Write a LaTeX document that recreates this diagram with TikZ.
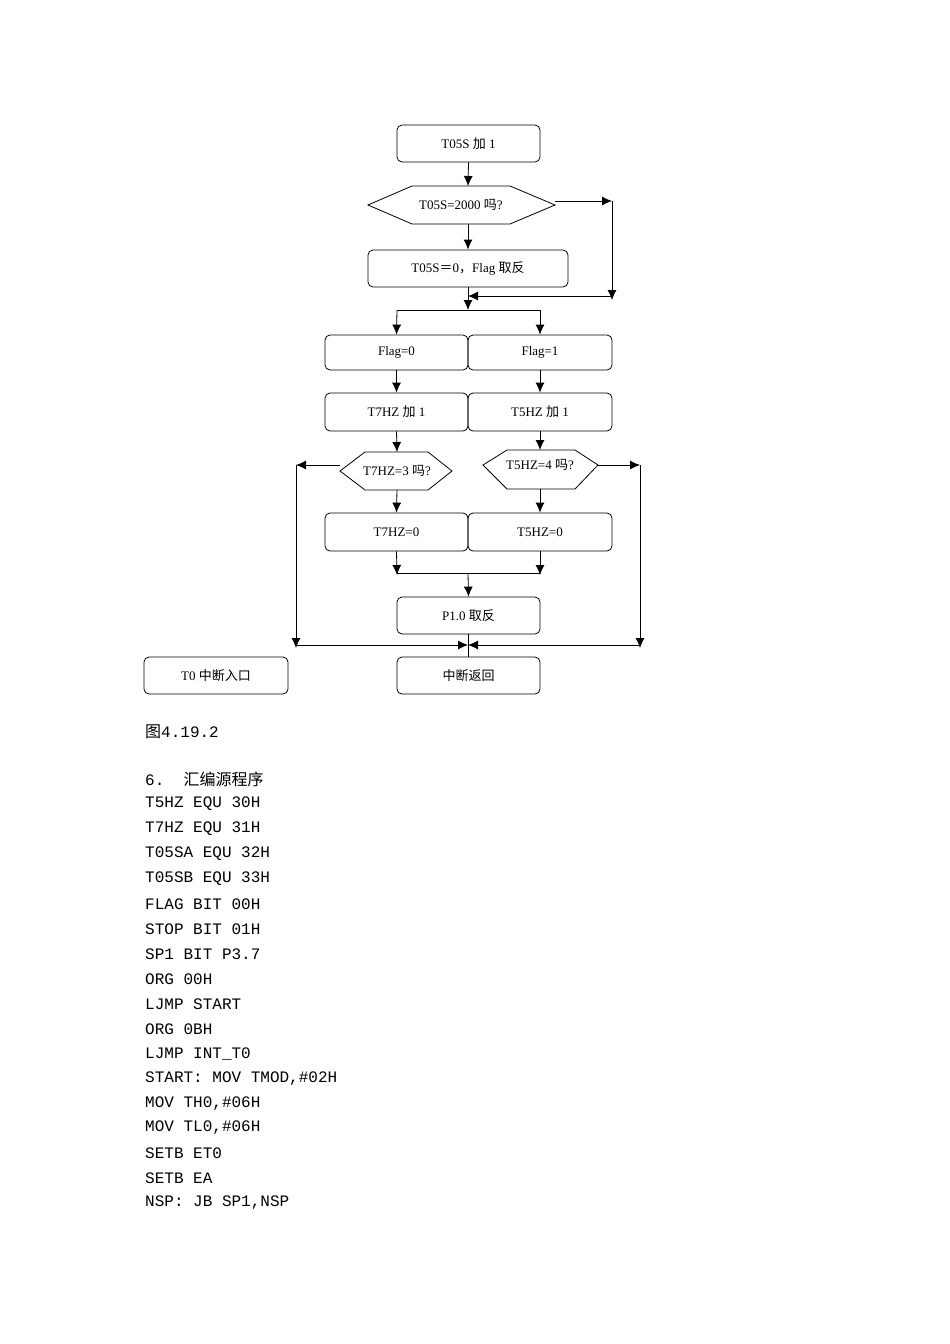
\documentclass[tikz,border=0pt]{standalone}
\usepackage{fontspec}
\setmainfont{Liberation Serif}
\newfontfamily\cjk{Noto Sans CJK SC}
\newfontfamily\mono{Liberation Mono}
\begin{document}
\begin{tikzpicture}[x=1pt,y=-1pt,
  box/.style={draw,rounded corners=5pt,line width=0.8pt,inner sep=0pt,font=\fontsize{13}{13}\selectfont},
  ar/.style={-{Latex[length=10pt,width=9pt]},line width=0.8pt},
  ln/.style={line width=0.8pt},
  code/.style={anchor=west,inner sep=0pt,font=\fontsize{16}{16}\mono}]
\usetikzlibrary{arrows.meta}
\useasboundingbox (0,0) rectangle (950,1344);
\def\bx#1#2#3#4#5#6{\node[box,minimum width=#4-#2,minimum height=#5-#3] (#1) at ({(#2+#4)/2},{(#3+#5)/2}) {#6};}
\bx{a}{397}{125}{540}{162}{T05S {\cjk 加} 1}
\bx{c}{368}{250}{568}{287}{T05S{\cjk ＝}0{\cjk ，}Flag {\cjk 取反}}
\bx{f0}{325}{335}{468}{370}{Flag=0}
\bx{f1}{468}{335}{612}{370}{Flag=1}
\bx{t7}{325}{393}{468}{431}{T7HZ {\cjk 加} 1}
\bx{t5}{468}{393}{612}{431}{T5HZ {\cjk 加} 1}
\bx{z7}{325}{513}{468}{551}{T7HZ=0}
\bx{z5}{468}{513}{612}{551}{T5HZ=0}
\bx{p}{397}{597}{540}{634}{P1.0 {\cjk 取反}}
\bx{r}{397}{657}{540}{694}{\cjk 中断返回}
\bx{e}{144}{657}{288}{694}{T0 {\cjk 中断入口}}
% hexagons
\draw[ln] (368,205)--(412,186)--(510,186)--(555,205)--(510,224)--(412,224)--cycle;
\node[font=\fontsize{13}{13}\selectfont] (b) at (461,205) {T05S=2000 {\cjk 吗}?};
\draw[ln] (340,471)--(365,452)--(428,452)--(452,471)--(428,490)--(365,490)--cycle;
\node[font=\fontsize{13}{13}\selectfont] (d7) at (397,471) {T7HZ=3 {\cjk 吗}?};
\draw[ln] (483,465)--(507,450)--(575,450)--(598,465)--(575,489)--(507,489)--cycle;
\node[font=\fontsize{13}{13}\selectfont] (d5) at (540,465) {T5HZ=4 {\cjk 吗}?};
\coordinate (m1) at (468,296); \coordinate (m2) at (468,310);
\coordinate (j) at (468,573); \coordinate (k) at (468,645);
% connectors
\draw[ar] (a.south) -- (468,186);
\draw[ar] (468,224) -- (c.north);
\draw[ar] (555,201) -- (612,201);
\draw[ar] (612,201) -- (612,300);
\draw[ar] (612,296) -- (m1);
\draw[ar] (c.south) -- (m2);
\draw[ln] (397,310) -- (540,310);
\draw[ar] (397,310) -- (f0.north);
\draw[ar] (540,310) -- (f1.north);
\draw[ar] (f0.south) -- (t7.north);
\draw[ar] (f1.south) -- (t5.north);
\draw[ar] (t7.south) -- (397,452);
\draw[ar] (t5.south) -- (540,450);
\draw[ar] (397,490) -- (z7.north);
\draw[ar] (540,489) -- (z5.north);
\draw[ar] (340,465) -- (296,465);
\draw[ar] (296,465) -- (296,648);
\draw[ar] (598,465) -- (640,465);
\draw[ar] (640,465) -- (640,648);
\draw[ar] (z7.south) -- (397,575);
\draw[ar] (z5.south) -- (540,575);
\draw[ln] (397,573) -- (540,573);
\draw[ar] (j) -- (p.north);
\draw[ar] (296,645) -- (k);
\draw[ar] (640,645) -- (k);
\draw[ln] (p.south) -- (r.north);
% text
\node[code] (cap) at (145,732) {{\cjk 图}4.19.2};
\node[code] (l0) at (145,779) {6.\ \ {\cjk 汇编源程序}};
\node[code] (l1) at (145,804) {T5HZ EQU 30H};
\node[code] (l2) at (145,829) {T7HZ EQU 31H};
\node[code] (l3) at (145,854) {T05SA EQU 32H};
\node[code] (l4) at (145,879) {T05SB EQU 33H};
\node[code] (l5) at (145,904) {FLAG BIT 00H};
\node[code] (l6) at (145,929) {STOP BIT 01H};
\node[code] (l7) at (145,954) {SP1 BIT P3.7};
\node[code] (l8) at (145,979) {ORG 00H};
\node[code] (l9) at (145,1004) {LJMP START};
\node[code] (l10) at (145,1029) {ORG 0BH};
\node[code] (l11) at (145,1054) {LJMP INT\_T0};
\node[code] (l12) at (145,1079) {START: MOV TMOD,\#02H};
\node[code] (l13) at (145,1104) {MOV TH0,\#06H};
\node[code] (l14) at (145,1128) {MOV TL0,\#06H};
\node[code] (l15) at (145,1153) {SETB ET0};
\node[code] (l16) at (145,1178) {SETB EA};
\node[code] (l17) at (145,1203) {NSP: JB SP1,NSP};
\end{tikzpicture}
\end{document}
